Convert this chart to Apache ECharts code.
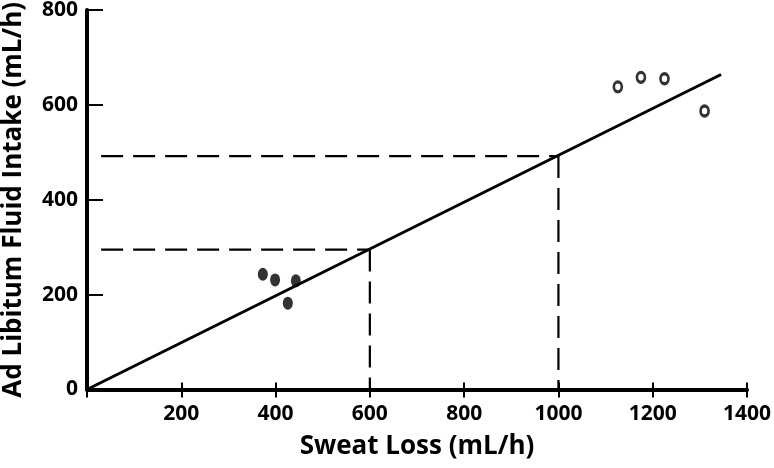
<!DOCTYPE html>
<html>
<head>
<meta charset="utf-8">
<script src="https://cdn.jsdelivr.net/npm/echarts@6/dist/echarts.min.js"></script>
<style>
html,body{margin:0;padding:0;background:#fff;}
#chart{width:774px;height:468px;}
</style>
</head>
<body>
<div id="chart"></div>
<script>
// ---- data ----
const xTitle = 'Sweat Loss (mL/h)';
const yTitle = 'Ad Libitum Fluid Intake (mL/h)';
const xTicks = [0, 200, 400, 600, 800, 1000, 1200, 1400];
const yTicks = [0, 200, 400, 600, 800];

// filled circles (low sweat-loss group)
const lowSweat  = [373, 399, 426, 443];
const lowIntake = [243, 231, 182, 229];
// open circles (high sweat-loss group)
const highSweat  = [1126, 1175, 1225, 1310];
const highIntake = [638, 658, 655, 587];

// regression line end points
const fitX = [0, 1345];
const fitY = [0, 664];

// dashed reference lines
const refX = [600, 1000];
const refY = [295, 492];
const refStartX = 30;

// ---- build ----
const filled = lowSweat.map((x, i) => [x, lowIntake[i]]);
const open = highSweat.map((x, i) => [x, highIntake[i]]);
const fit = fitX.map((x, i) => [x, fitY[i]]);

const FONT = 'Open Sans';
const dashStyle = { color: '#000', width: 2.2, type: [22, 10] };

const series = [
  {
    type: 'line', data: fit, showSymbol: false, silent: true,
    lineStyle: { color: '#000', width: 3 }, z: 3
  },
  {
    type: 'scatter', data: filled, symbol: 'circle', symbolSize: [10, 13],
    itemStyle: { color: '#000' }, z: 5
  },
  {
    type: 'scatter', data: open, symbol: 'circle', symbolSize: [8, 10],
    itemStyle: { color: '#fff', borderColor: '#000', borderWidth: 3 }, z: 5
  }
];
refX.forEach((rx, i) => {
  series.push({
    type: 'line', data: [[refStartX, refY[i]], [rx, refY[i]]], showSymbol: false, silent: true,
    lineStyle: dashStyle, z: 2
  });
  series.push({
    type: 'line', data: [[rx, refY[i]], [rx, 0]], showSymbol: false, silent: true,
    lineStyle: dashStyle, z: 2
  });
});

const chart = echarts.init(document.getElementById('chart'), null, { renderer: 'canvas' });
chart.setOption({
  backgroundColor: '#fff',
  animation: false,
  textStyle: { fontFamily: FONT },
  grid: { left: 87, right: 27, top: 10, bottom: 78.5, containLabel: false, outerBoundsMode: 'none' },
  xAxis: [
    {
      type: 'value', min: xTicks[0], max: xTicks[xTicks.length - 1], interval: 200,
      name: xTitle, nameLocation: 'middle', nameGap: 44,
      nameTextStyle: { fontFamily: FONT, fontWeight: 'bold', fontSize: 26, color: '#000' },
      axisLine: { show: true, onZero: false, lineStyle: { color: '#000', width: 4 } },
      axisTick: { show: true, inside: false, length: 8, lineStyle: { color: '#000', width: 2 } },
      axisLabel: {
        margin: 14, fontFamily: FONT, fontWeight: 'bold', fontSize: 21, color: '#000',
        formatter: v => (v === 0 ? '' : String(v))
      },
      splitLine: { show: false }
    },
    {
      type: 'value', min: xTicks[0], max: xTicks[xTicks.length - 1], interval: 200,
      position: 'bottom', gridIndex: 0,
      axisLine: { show: false },
      axisTick: { show: true, inside: true, length: 7, lineStyle: { color: '#000', width: 2 } },
      axisLabel: { show: false },
      splitLine: { show: false }
    }
  ],
  yAxis: {
    type: 'value', min: yTicks[0], max: yTicks[yTicks.length - 1], interval: 200,
    name: yTitle, nameLocation: 'middle', nameGap: 60, nameRotate: 90,
    nameTextStyle: { fontFamily: FONT, fontWeight: 'bold', fontSize: 26, color: '#000' },
    axisLine: { show: true, onZero: false, lineStyle: { color: '#000', width: 4 } },
    axisTick: { show: true, inside: true, length: 16, lineStyle: { color: '#000', width: 2 } },
    axisLabel: { margin: 9, fontFamily: FONT, fontWeight: 'bold', fontSize: 21, color: '#000' },
    splitLine: { show: false }
  },
  series: series
});
</script>
</body>
</html>
